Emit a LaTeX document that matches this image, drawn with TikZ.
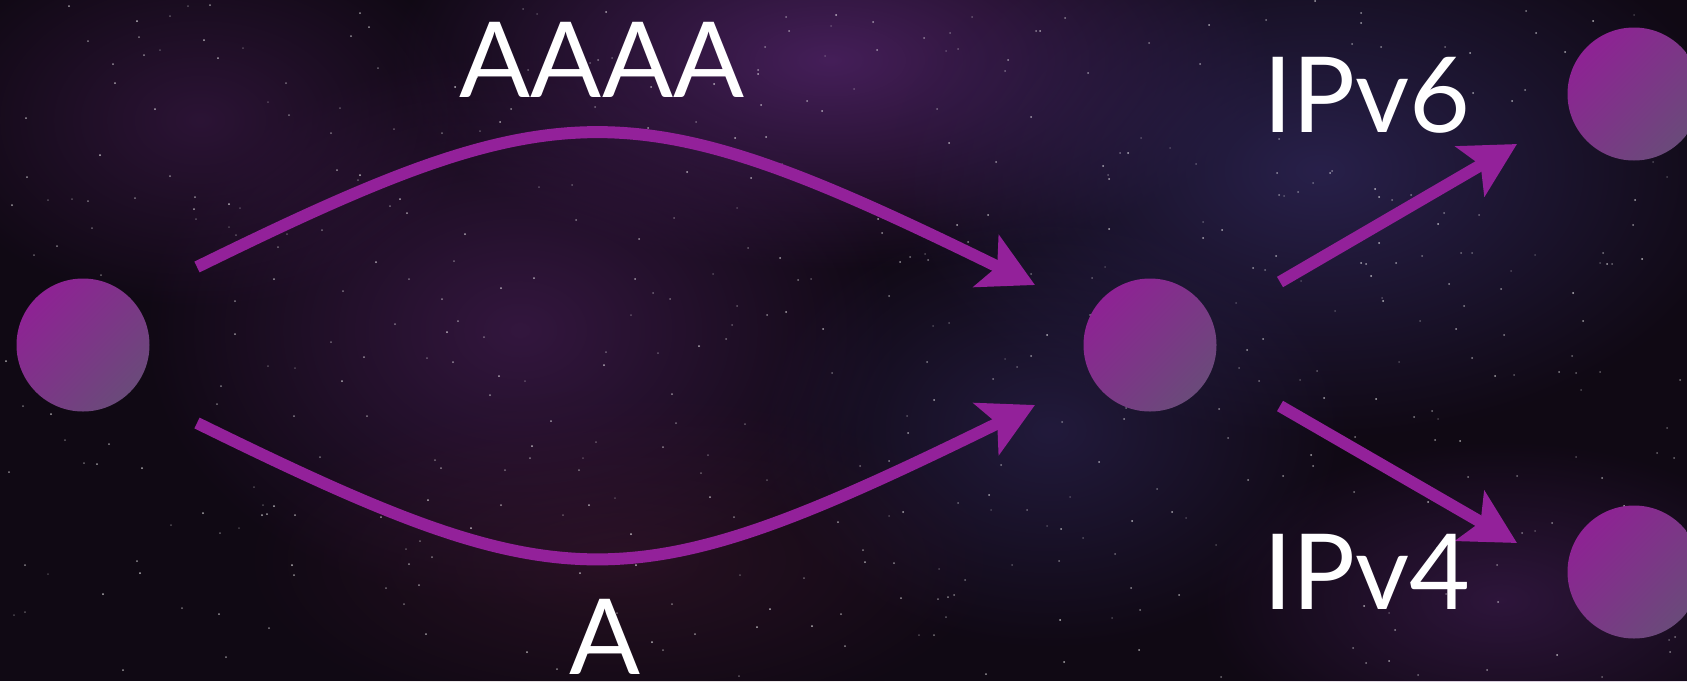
\documentclass[tikz,border=0pt]{standalone}
\usepackage{fontspec}
\setmainfont{Lato}
\usetikzlibrary{arrows.meta,calc,fadings}
\definecolor{bgbase}{HTML}{100914}
\definecolor{nebA}{HTML}{52246A}
\definecolor{nebB}{HTML}{30285C}
\definecolor{nebC}{HTML}{421C50}
\definecolor{nebD}{HTML}{3E1830}
\definecolor{arrowc}{HTML}{93219A}
\definecolor{dotA}{HTML}{8E2294}
\definecolor{dotB}{HTML}{6A4A7A}
\tikzfading[name=glow, inner color=transparent!0, outer color=transparent!100]
\tikzset{
  dot/.style={circle, minimum size=133pt, inner sep=0pt, top color=dotA, bottom color=dotB, shading angle=45},
  link/.style={draw=arrowc, line width=12pt, -{Stealth[length=54pt, width=57pt, inset=12pt]}},
  lbl/.style={text=white, inner sep=0pt, font=\fontsize{105}{110}\selectfont}
}
\begin{document}
\begin{tikzpicture}[x=1pt, y=-1pt]
\useasboundingbox (0,0) rectangle (1687,681);
\fill[bgbase] (0,0) rectangle (1687,681);
% nebula glows
\fill[nebA, path fading=glow, fill opacity=0.8] (830,60) ellipse (440 and 210);
\fill[nebB, path fading=glow, fill opacity=0.75] (1320,170) ellipse (430 and 270);
\fill[nebC, path fading=glow, fill opacity=0.7] (520,330) ellipse (380 and 280);
\fill[nebB, path fading=glow, fill opacity=0.55] (1050,430) ellipse (300 and 220);
\fill[nebC, path fading=glow, fill opacity=0.55] (200,120) ellipse (280 and 190);
\fill[nebD, path fading=glow, fill opacity=0.5] (620,560) ellipse (380 and 170);
\fill[nebA, path fading=glow, fill opacity=0.45] (1500,600) ellipse (300 and 160);
% stars
\pgfmathsetseed{7}
\foreach \i in {1,...,500} {
  \pgfmathsetmacro\sx{random(0,1687)}
  \pgfmathsetmacro\sy{random(0,681)}
  \pgfmathsetmacro\so{0.2+0.5*rnd}
  \fill[white, opacity=\so] (\sx,\sy) circle (1.0);
}
% nodes
\node[dot] (L) at (83,345) {};
\node[dot] (M) at (1150,345) {};
\node[dot] (T) at (1634,94) {};
\node[dot] (B) at (1634,572) {};
% connector ends
\coordinate (a1) at ($(L)+(114,-78)$);
\coordinate (a2) at ($(M)+(-115,-60)$);
\coordinate (b1) at ($(L)+(114,78)$);
\coordinate (b2) at ($(M)+(-115,60)$);
\coordinate (c1) at ($(M)+(130,-63)$);
\coordinate (c2) at ($(T)+(-117,50)$);
\coordinate (d1) at ($(M)+(130,61)$);
\coordinate (d2) at ($(B)+(-117,-29)$);
% connectors
\draw[link] (a1) .. controls (564,87) and (631,87) .. (a2);
\draw[link] (b1) .. controls (568,605) and (627,605) .. (b2);
\draw[link] (c1) -- (c2);
\draw[link] (d1) -- (d2);
% labels
\node[lbl, anchor=base] (t1) at (602,97) {AAAA};
\node[lbl, anchor=base] (t2) at (605,674) {A};
\node[lbl, anchor=base west] (t3) at (1263,132) {IPv6};
\node[lbl, anchor=base west] (t4) at (1263,609) {IPv4};
\end{tikzpicture}
\end{document}
